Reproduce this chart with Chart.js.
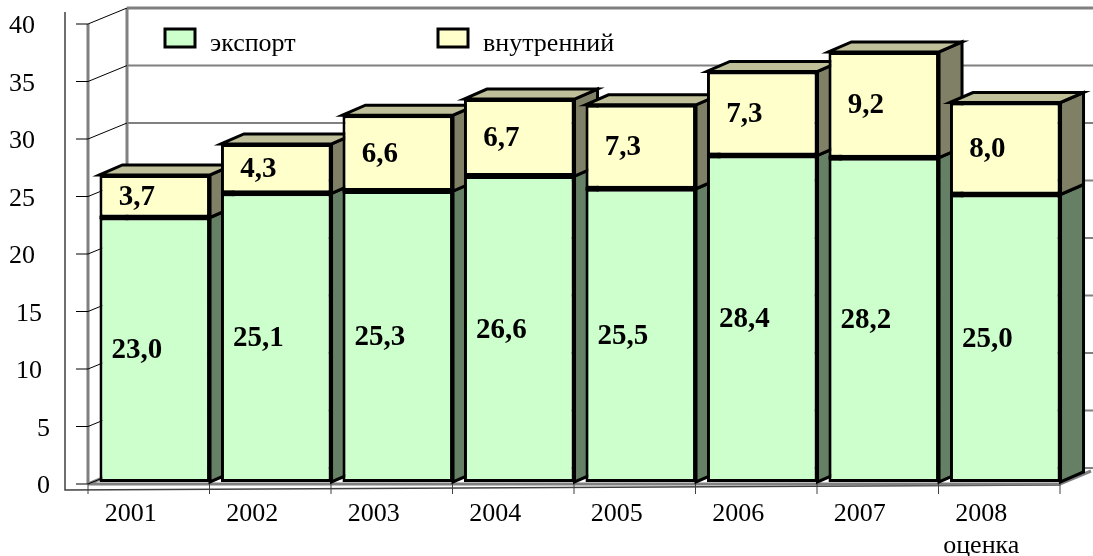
<!DOCTYPE html>
<html>
<head>
<meta charset="utf-8">
<script src="https://cdn.jsdelivr.net/npm/chart.js@4/dist/chart.umd.min.js"></script>
<style>
  html, body { margin: 0; padding: 0; background: #ffffff; }
  #wrap { width: 1093px; height: 556px; }
</style>
</head>
<body>
<div id="wrap"><canvas id="c" width="1093" height="556"></canvas></div>
<script>
const categories = [['2001'], ['2002'], ['2003'], ['2004'], ['2005'], ['2006'], ['2007'], ['2008', 'оценка']];
const exportValues = [23.0, 25.1, 25.3, 26.6, 25.5, 28.4, 28.2, 25.0];
const domesticValues = [3.7, 4.3, 6.6, 6.7, 7.3, 7.3, 9.2, 8.0];
const yTicks = [0, 5, 10, 15, 20, 25, 30, 35, 40];
const seriesNames = ['экспорт', 'внутренний'];

const FONT = '"Liberation Serif", "Times New Roman", serif';
const frontColors = ['#CCFFCC', '#FFFFCC'];
const sideColors = ['#658065', '#808066'];
const topColors = ['#99BF99', '#BFBF99'];
const DX = 23, DY = -10;          // bar depth
const WDX = 39, WDY = -16;        // wall depth

function fmt(v) { return v.toFixed(1).replace('.', ','); }

const threeD = {
  id: 'threeD',
  beforeDatasetsDraw(chart) {
    const ctx = chart.ctx;
    const xs = chart.scales.x, ys = chart.scales.y;
    const catW = xs.getPixelForValue(1) - xs.getPixelForValue(0);
    const yf = v => ys.getPixelForValue(v) + 2;
    const frontX = xs.left - 6;
    const backX = frontX + WDX;
    const frontRight = frontX + catW * categories.length;
    ctx.save();
    ctx.lineCap = 'butt';
    // outer axis frame
    ctx.strokeStyle = '#404040';
    ctx.lineWidth = 1.5;
    ctx.beginPath();
    ctx.moveTo(65, 12); ctx.lineTo(65, yf(0) + 6);
    ctx.lineTo(frontRight, yf(0) + 1);
    ctx.stroke();
    // back wall gridlines
    ctx.strokeStyle = '#808080';
    yTicks.forEach(v => {
      ctx.lineWidth = v === 40 ? 3 : 2;
      ctx.beginPath();
      ctx.moveTo(backX, yf(v) + WDY);
      ctx.lineTo(chart.width, yf(v) + WDY);
      ctx.stroke();
    });
    // wall edges
    ctx.lineWidth = 3;
    ctx.beginPath();
    ctx.moveTo(frontX, yf(40)); ctx.lineTo(frontX, yf(0));
    ctx.moveTo(backX, yf(40) + WDY); ctx.lineTo(backX, yf(0) + WDY);
    ctx.stroke();
    // floor
    ctx.beginPath();
    ctx.moveTo(frontX, yf(0));
    ctx.lineTo(frontRight, yf(0));
    ctx.lineTo(frontRight + 31, yf(0) - 13);
    ctx.moveTo(frontX, yf(0));
    ctx.lineTo(backX, yf(0) + WDY);
    ctx.stroke();
    // left wall gridlines + ticks
    ctx.strokeStyle = '#000000';
    ctx.lineWidth = 1;
    yTicks.forEach(v => {
      ctx.beginPath();
      ctx.moveTo(frontX - 12, yf(v));
      ctx.lineTo(frontX, yf(v));
      ctx.lineTo(backX, yf(v) + WDY);
      ctx.stroke();
    });
    // category ticks
    ctx.strokeStyle = '#404040';
    for (let k = 0; k <= categories.length; k++) {
      const x = frontX + k * catW;
      ctx.beginPath();
      ctx.moveTo(x, yf(0));
      ctx.lineTo(x, yf(0) + 10);
      ctx.stroke();
    }
    // bar sides and tops
    ctx.lineWidth = 3;
    ctx.lineJoin = 'miter';
    ctx.strokeStyle = '#000000';
    const metas = chart.data.datasets.map((d, i) => chart.getDatasetMeta(i));
    for (let i = 0; i < categories.length; i++) {
      metas.forEach((meta, di) => {
        const el = meta.data[i];
        const p = el.getProps(['x', 'y', 'base', 'width'], true);
        const xl = p.x - p.width / 2, xr = p.x + p.width / 2;
        const yt = p.y, yb = p.base;
        ctx.fillStyle = sideColors[di];
        ctx.beginPath();
        ctx.moveTo(xr, yt); ctx.lineTo(xr + DX, yt + DY);
        ctx.lineTo(xr + DX, yb + DY); ctx.lineTo(xr, yb); ctx.closePath();
        ctx.fill(); ctx.stroke();
        if (di === metas.length - 1) {
          ctx.fillStyle = topColors[di];
          ctx.beginPath();
          ctx.moveTo(xl, yt); ctx.lineTo(xl + DX, yt + DY);
          ctx.lineTo(xr + DX, yt + DY); ctx.lineTo(xr, yt); ctx.closePath();
          ctx.fill(); ctx.stroke();
        }
      });
    }
    ctx.restore();
  },
  afterDatasetsDraw(chart) {
    const ctx = chart.ctx;
    ctx.save();
    // segment boundary lines on the front faces
    ctx.strokeStyle = '#000000';
    ctx.lineWidth = 3.5;
    const lower = chart.getDatasetMeta(0);
    lower.data.forEach(el => {
      const p = el.getProps(['x', 'y', 'width'], true);
      ctx.beginPath();
      ctx.moveTo(p.x - p.width / 2, p.y);
      ctx.lineTo(p.x + p.width / 2, p.y);
      ctx.stroke();
    });
    ctx.fillStyle = '#000000';
    ctx.font = 'bold 29px ' + FONT;
    ctx.textAlign = 'center';
    ctx.textBaseline = 'middle';
    chart.data.datasets.forEach((ds, di) => {
      const meta = chart.getDatasetMeta(di);
      meta.data.forEach((el, i) => {
        const p = el.getProps(['x', 'y', 'base'], true);
        ctx.fillText(fmt(ds.data[i]), p.x - 18, (p.y + p.base) / 2 + 1);
      });
    });
    ctx.restore();
  },
  afterDraw(chart) {
    const ctx = chart.ctx;
    const xs = chart.scales.x, ys = chart.scales.y;
    const yf = v => ys.getPixelForValue(v) + 2;
    ctx.save();
    ctx.fillStyle = '#000000';
    ctx.font = '26px ' + FONT;
    // y labels
    ctx.textAlign = 'right';
    ctx.textBaseline = 'alphabetic';
    yTicks.forEach(v => {
      const right = v >= 20 ? 35 : (v >= 10 ? 42 : 50);
      ctx.fillText(String(v), right, yf(v) + 9);
    });
    // category labels
    ctx.textAlign = 'center';
    categories.forEach((lines, i) => {
      const x = xs.getPixelForValue(i) - 24;
      lines.forEach((t, li) => {
        ctx.fillText(t, x, yf(0) + 37 + li * 32);
      });
    });
    // legend
    const legendX = [165, 438];
    chart.data.datasets.forEach((ds, di) => {
      const bx = legendX[di];
      ctx.fillStyle = ds.backgroundColor;
      ctx.fillRect(bx, 29, 30, 18);
      ctx.strokeStyle = '#000000';
      ctx.lineWidth = 3;
      ctx.strokeRect(bx, 29, 30, 18);
      ctx.fillStyle = '#000000';
      ctx.textAlign = 'left';
      ctx.fillText(ds.label, bx + 45, 51);
    });
    ctx.restore();
  }
};

new Chart(document.getElementById('c'), {
  type: 'bar',
  data: {
    labels: categories,
    datasets: [
      { label: seriesNames[0], data: exportValues, backgroundColor: frontColors[0] },
      { label: seriesNames[1], data: domesticValues, backgroundColor: frontColors[1] }
    ].map(d => Object.assign(d, {
      borderColor: '#000000', borderWidth: 3, borderSkipped: false, inflateAmount: 0,
      barPercentage: 0.91, categoryPercentage: 1
    }))
  },
  options: {
    responsive: false,
    animation: false,
    devicePixelRatio: 1,
    layout: { padding: { left: 94, right: 27, top: 22, bottom: 74 } },
    scales: {
      x: { stacked: true, display: false },
      y: { stacked: true, display: false, min: 0, max: 40 }
    },
    plugins: { legend: { display: false }, tooltip: { enabled: false } }
  },
  plugins: [threeD]
});
</script>
</body>
</html>
